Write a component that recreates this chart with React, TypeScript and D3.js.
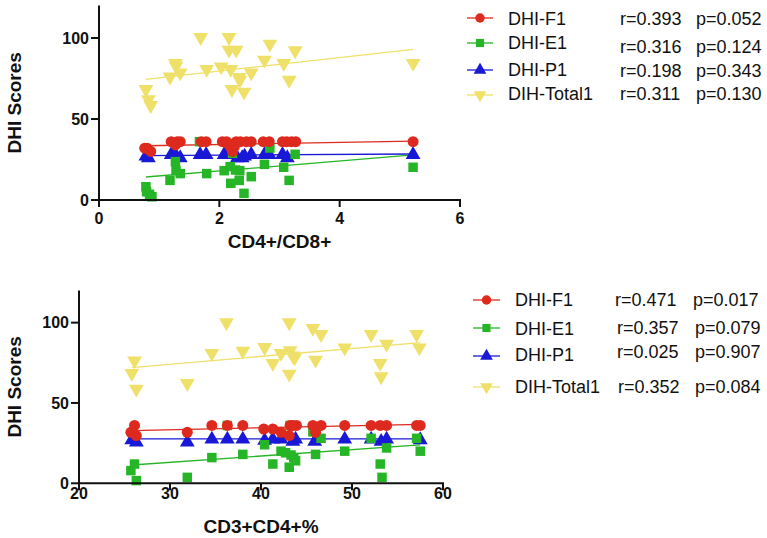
import * as d3 from 'd3'

type Pt = [number, number]

const seriesNames = ['DHI-F1', 'DHI-E1', 'DHI-P1', 'DIH-Total1']
const seriesColors = ['#de2a1e', '#25b526', '#1818d6', '#efe06a']
const seriesShapes = ['circle', 'square', 'triangle', 'down']

// ---- top panel: CD4+/CD8+ ----
const topF1: Pt[] = [
  [0.76, 32], [0.8, 32], [0.86, 30], [1.2, 36], [1.27, 34], [1.3, 36], [1.35, 36],
  [1.7, 36], [1.78, 36], [2.05, 36], [2.12, 36], [2.16, 34], [2.2, 32], [2.22, 30],
  [2.25, 33], [2.28, 36], [2.35, 36], [2.45, 36], [2.53, 36], [2.73, 36], [2.83, 36],
  [3.05, 36], [3.12, 36], [3.2, 36], [3.27, 36], [5.22, 36],
]
const topE1: Pt[] = [
  [0.78, 8.2], [0.79, 5.1], [0.84, 3.5], [0.88, 2], [1.18, 12.1], [1.27, 23.7], [1.28, 18.1],
  [1.35, 16.3], [1.67, 36], [1.79, 16.3], [2.08, 18.1], [2.18, 20.6], [2.19, 10.3], [2.22, 28.8],
  [2.27, 18.5], [2.33, 12.1], [2.34, 18.1], [2.41, 4.1], [2.53, 14.4], [2.75, 22], [2.84, 32.1],
  [3.07, 20.2], [3.16, 12.1], [3.26, 28.2], [5.22, 20.2],
]
const topP1: Pt[] = [
  [0.78, 27], [0.82, 26], [1.2, 28], [1.27, 28], [1.35, 26], [1.68, 28], [1.78, 28],
  [2.08, 28], [2.2, 28], [2.3, 26], [2.38, 26], [2.42, 27], [2.53, 28], [2.75, 28],
  [2.83, 28], [3.05, 28], [3.13, 26], [5.22, 28],
]
const topTotal: Pt[] = [
  [0.78, 68.3], [0.82, 62], [0.86, 58.4], [1.18, 76], [1.27, 84.4], [1.28, 82.7], [1.35, 78.6],
  [1.69, 100.4], [1.79, 80.7], [2.03, 82.3], [2.16, 100.4], [2.16, 92.6], [2.19, 80.7],
  [2.21, 68.3], [2.28, 92.6], [2.33, 75.7], [2.34, 74], [2.41, 66.7], [2.53, 78.6],
  [2.75, 86.4], [2.84, 96.3], [3.07, 84.4], [3.16, 74], [3.26, 92.2], [5.22, 84.4],
]
// fitted lines: [x0, y0, x1, y1]
const topFits = [
  [0.78, 33.5, 5.22, 36.4],
  [0.78, 14.2, 5.22, 27.8],
  [0.78, 27.4, 5.22, 28.4],
  [0.78, 74.5, 5.22, 93],
]
const topR = ['r=0.393', 'r=0.316', 'r=0.198', 'r=0.311']
const topP = ['p=0.052', 'p=0.124', 'p=0.343', 'p=0.130']
const topXTicks = [0, 2, 4, 6]

// ---- bottom panel: CD3+CD4+% ----
const botF1: Pt[] = [
  [25.7, 31.7], [26.1, 36], [26.3, 29.7], [31.9, 31.7], [34.6, 36], [36.3, 36], [38, 36],
  [40.3, 33.8], [41.3, 33.8], [42.2, 31.7], [43.1, 29.7], [43.2, 36], [43.5, 36], [43.9, 36],
  [45.7, 36], [46, 31.7], [46.6, 36], [49.2, 36], [52.1, 36], [53.1, 36], [53.8, 36],
  [57.1, 36], [57.5, 36],
]
const botE1: Pt[] = [
  [25.7, 7.9], [26.1, 12], [26.3, 1.7], [31.9, 3.7], [34.6, 16], [36.3, 36], [38, 18],
  [40.4, 24], [41.3, 12], [42.2, 20], [42.7, 19], [43.1, 10], [43.3, 17.6], [43.6, 16],
  [43.8, 14], [43.2, 36], [45.7, 32], [46, 18], [46.6, 28], [49.2, 20], [52.1, 28],
  [53.1, 12], [53.3, 3.7], [53.8, 22], [57.1, 28], [57.5, 20],
]
const botP1: Pt[] = [
  [25.8, 27], [26.3, 25.5], [31.9, 25.5], [34.6, 27.4], [36.3, 27.4], [38, 27.4], [40.4, 26.6],
  [41.3, 27.4], [42.2, 27.4], [43.5, 26], [43.8, 27.4], [45.9, 26], [49.2, 27.4], [52.1, 27.4],
  [53.2, 26], [53.8, 27.4], [57.5, 27],
]
const botTotal: Pt[] = [
  [25.8, 68.5], [26.1, 76.3], [26.3, 58.7], [31.9, 62.2], [34.6, 80.9], [36.2, 100], [38, 82.4],
  [40.4, 84.6], [41.3, 74.7], [42.2, 80.9], [43.1, 100], [43.1, 68], [43.2, 82.6], [43.5, 79.3],
  [43.7, 78.2], [45.7, 96.5], [46, 76.8], [46.6, 92.7], [49.2, 84.4], [52.1, 92.7], [53.1, 74.7],
  [53.2, 66.4], [53.8, 86.7], [57.1, 92.7], [57.4, 84.4],
]
const botFits = [
  [25.8, 32.8, 57.5, 36.7],
  [25.8, 11.4, 57.5, 23.9],
  [25.8, 27.6, 57.8, 27.6],
  [25.8, 72, 57.5, 87.6],
]
const botR = ['r=0.471', 'r=0.357', 'r=0.025', 'r=0.352']
const botP = ['p=0.017', 'p=0.079', 'p=0.907', 'p=0.084']
const botXTicks = [20, 30, 40, 50, 60]

const yTicks = [0, 50, 100]
const FONT = 'Liberation Sans, Arial, Helvetica, sans-serif'

function symbolPath(shape: string, size: number) {
  const type =
    shape === 'circle' ? d3.symbolCircle : shape === 'square' ? d3.symbolSquare : d3.symbolTriangle
  return d3.symbol().type(type).size(size)() as string
}

function Marker({ shape, color, x, y, size = 95 }: { shape: string; color: string; x: number; y: number; size?: number }) {
  const rot = shape === 'down' ? ' rotate(180)' : ''
  const s = shape === 'circle' ? size : shape === 'square' ? size * 0.95 : size
  return <path d={symbolPath(shape, s)} transform={`translate(${x},${y})${rot}`} fill={color} />
}

type PanelProps = {
  xDomain: [number, number]
  xRange: [number, number]
  yRange: [number, number]
  xTicks: number[]
  xLabel: string
  xLabelY: number
  xTickY: number
  yLabelX: number
  series: Pt[][]
  fits: number[][]
}

function Panel({ xDomain, xRange, yRange, xTicks, xLabel, xLabelY, xTickY, yLabelX, series, fits }: PanelProps) {
  const x = d3.scaleLinear().domain(xDomain).range(xRange)
  const y = d3.scaleLinear().domain([0, 120]).range(yRange)
  const x0 = xRange[0]
  const y0 = yRange[0]
  const drawOrder = [3, 2, 1, 0]
  return (
    <g fontFamily={FONT}>
      {drawOrder.map((i) => (
        <line
          key={'fit' + i}
          x1={x(fits[i][0])}
          y1={y(fits[i][1])}
          x2={x(fits[i][2])}
          y2={y(fits[i][3])}
          stroke={seriesColors[i]}
          strokeWidth={1.3}
        />
      ))}
      {drawOrder.map((i) => (
        <g key={'s' + i}>
          {series[i].map((d, j) => (
            <Marker key={j} shape={seriesShapes[i]} color={seriesColors[i]} x={x(d[0])} y={y(d[1])} />
          ))}
        </g>
      ))}
      {/* axes */}
      <line x1={x0} x2={x0} y1={y(120)} y2={y0 + 1} stroke="#111" strokeWidth={2} />
      <line x1={x0 - 1} x2={xRange[1] + 1} y1={y0} y2={y0} stroke="#111" strokeWidth={2} />
      {yTicks.map((t) => (
        <g key={'y' + t}>
          <line x1={x0 - 8} x2={x0} y1={y(t)} y2={y(t)} stroke="#111" strokeWidth={2} />
          <text x={x0 - 10} y={y(t)} dy="0.36em" textAnchor="end" fontSize={16} fontWeight="bold" fill="#111">
            {t}
          </text>
        </g>
      ))}
      {xTicks.map((t) => (
        <g key={'x' + t}>
          <line x1={x(t)} x2={x(t)} y1={y0} y2={y0 + 7} stroke="#111" strokeWidth={2} />
          <text x={x(t)} y={xTickY} textAnchor="middle" fontSize={16} fontWeight="bold" fill="#111">
            {t}
          </text>
        </g>
      ))}
      <text x={(xRange[0] + xRange[1]) / 2} y={xLabelY} textAnchor="middle" fontSize={19} fontWeight="bold" fill="#111">
        {xLabel}
      </text>
      <text
        transform={`translate(${yLabelX},${(yRange[0] + yRange[1]) / 2}) rotate(-90)`}
        textAnchor="middle"
        fontSize={19}
        fontWeight="bold"
        fill="#111"
      >
        DHI Scores
      </text>
    </g>
  )
}

type LegendProps = {
  lineX: [number, number]
  rowY: number[]
  nameX: number
  nameY: number[]
  statY: number[]
  rX: number[]
  pX: number[]
  rTexts: string[]
  pTexts: string[]
}

function Legend({ lineX, rowY, nameX, nameY, statY, rX, pX, rTexts, pTexts }: LegendProps) {
  return (
    <g fontFamily={FONT} fontSize={18} fill="#111">
      {seriesNames.map((name, i) => (
        <g key={name}>
          <line x1={lineX[0]} x2={lineX[1]} y1={rowY[i]} y2={rowY[i]} stroke={seriesColors[i]} strokeWidth={1.3} />
          <Marker shape={seriesShapes[i]} color={seriesColors[i]} x={(lineX[0] + lineX[1]) / 2} y={rowY[i]} size={70} />
          <text x={nameX} y={nameY[i]}>{name}</text>
          <text x={rX[i]} y={statY[i]}>{rTexts[i]}</text>
          <text x={pX[i]} y={statY[i]}>{pTexts[i]}</text>
        </g>
      ))}
    </g>
  )
}

export default function App() {
  return (
    <svg width={767} height={538} style={{ position: 'absolute', left: 0, top: 0, background: '#fff' }}>
      <rect width={767} height={538} fill="#fff" />
      <Panel
        xDomain={[0, 6]}
        xRange={[99, 460]}
        yRange={[200, 5.6]}
        xTicks={topXTicks}
        xLabel="CD4+/CD8+"
        xLabelY={248}
        xTickY={224}
        yLabelX={21}
        series={[topF1, topE1, topP1, topTotal]}
        fits={topFits}
      />
      <Legend
        lineX={[467, 493]}
        rowY={[18, 43, 70, 95]}
        nameX={508}
        nameY={[25, 49, 76, 100]}
        statY={[25, 53, 77, 100]}
        rX={[620, 620, 620, 620]}
        pX={[696, 696, 696, 696]}
        rTexts={topR}
        pTexts={topP}
      />
      <Panel
        xDomain={[20, 60]}
        xRange={[79, 443]}
        yRange={[483.3, 290.5]}
        xTicks={botXTicks}
        xLabel="CD3+CD4+%"
        xLabelY={533}
        xTickY={499}
        yLabelX={21}
        series={[botF1, botE1, botP1, botTotal]}
        fits={botFits}
      />
      <Legend
        lineX={[473, 500]}
        rowY={[300, 328, 356, 387]}
        nameX={515}
        nameY={[306, 335, 361, 393]}
        statY={[306, 334, 358, 393]}
        rX={[615, 617, 617, 618]}
        pX={[693, 695, 695, 695]}
        rTexts={botR}
        pTexts={botP}
      />
    </svg>
  )
}
